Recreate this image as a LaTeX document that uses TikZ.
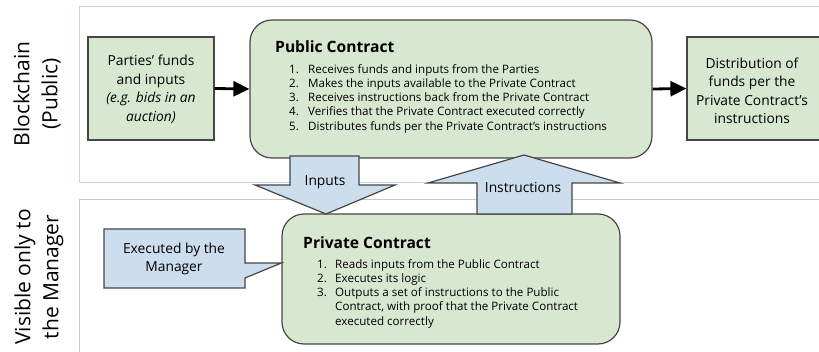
\documentclass[tikz,border=0pt]{standalone}
\usepackage{fontspec}
\setmainfont{Open Sans}
\usetikzlibrary{arrows.meta,calc}
\definecolor{boxgreen}{RGB}{216,231,208}
\definecolor{boxblue}{RGB}{204,222,238}
\definecolor{panelblue}{RGB}{196,214,240}
\definecolor{panelgray}{RGB}{200,200,200}
\definecolor{edge}{RGB}{70,70,70}
\tikzset{
  greenbox/.style={draw=edge, line width=1.2pt, fill=boxgreen, inner sep=0pt},
  bluebox/.style={draw=edge, line width=1.2pt, fill=boxblue},
  contract/.style={greenbox, rounded corners=22pt},
  flowarrow/.style={line width=2.8pt, -{Triangle[length=16pt,width=15pt]}},
  sidelabel/.style={rotate=90, align=center, font=\fontsize{21}{28}\selectfont, inner sep=0pt},
  listtxt/.style={align=left, anchor=north west, inner sep=0pt, font=\fontsize{11.6}{14.3}\selectfont},
  boxtxt/.style={align=center, inner sep=0pt, font=\fontsize{13.8}{18.5}\selectfont},
  titletxt/.style={anchor=base west, inner sep=0pt, font=\fontsize{15.6}{18}\selectfont\bfseries}
}
\newcommand{\itemno}[1]{\makebox[19pt][l]{#1}}
\newcommand{\itemnob}[1]{\makebox[18pt][l]{#1}}
\begin{document}
\begin{tikzpicture}[x=1pt,y=-1pt]
\useasboundingbox (0,0) rectangle (819,352);
\clip (0,0) rectangle (819,352);
% panels
\draw[panelblue, line width=1pt] (79,7) rectangle (840,183);
\draw[panelgray, line width=1pt] (79,200) rectangle (840,370);
% side labels
\node[sidelabel] (lbltop) at (37,94) {Blockchain\\(Public)};
\node[sidelabel] (lblbot) at (39,277) {Visible only to\\the Manager};
% top boxes
\node[greenbox, minimum width=126pt, minimum height=103pt] (parties) at (151,88.5) {};
\node[boxtxt] (partiestxt) at (151,89.5) {Parties' funds\\and inputs\\\itshape (e.g. bids in an\\\itshape auction)};
\node[contract, minimum width=402pt, minimum height=138pt] (public) at (451,89) {};
\node[greenbox, minimum width=146pt, minimum height=103pt] (dist) at (760,88.5) {};
\node[boxtxt] (disttxt) at (752,91) {Distribution of\\funds per the\\Private Contract's\\instructions};
\node[titletxt] (pubtitle) at (275,53) {Public Contract};
\node[listtxt] (publist) at (289,64) {\itemno{1.}Receives funds and inputs from the Parties\\
\itemno{2.}Makes the inputs available to the Private Contract\\
\itemno{3.}Receives instructions back from the Private Contract\\
\itemno{4.}Verifies that the Private Contract executed correctly\\
\itemno{5.}Distributes funds per the Private Contract's instructions};
% flow arrows
\draw[flowarrow] (parties.east) -- (public.west);
\draw[flowarrow] (public.east) -- (dist.west);
% private contract
\node[contract, minimum width=338pt, minimum height=130pt] (private) at (451,279) {};
\node[titletxt] (privtitle) at (303,249) {Private Contract};
\node[listtxt] (privlist) at (317,259) {\itemnob{1.}Reads inputs from the Public Contract\\
\itemnob{2.}Executes its logic\\
\itemnob{3.}Outputs a set of instructions to the Public\\
\hspace*{18pt}Contract, with proof that the Private Contract\\
\hspace*{18pt}executed correctly};
% callout
\coordinate (calltip) at (private.west |- 0,263);
\draw[bluebox] (104,229) -- (245,229) -- (245,263) -- (calltip) -- (245,278) -- (245,288) -- (104,288) -- cycle;
\node[boxtxt] (calltxt) at (174,259) {Executed by the\\Manager};
% block arrows
\coordinate (intip) at (326,214);
\draw[bluebox] (290,156) -- (359,156) -- (359,185) -- (395,185) -- (intip) -- (255,185) -- (290,185) -- cycle;
\node[boxtxt] (inlbl) at (325,182) {Inputs};
\coordinate (outtip) at (524,155);
\draw[bluebox] (477,214) -- (572,214) -- (572,183) -- (620,183) -- (outtip) -- (428,183) -- (477,183) -- cycle;
\node[boxtxt] (outlbl) at (523,188) {Instructions};
\end{tikzpicture}
\end{document}
